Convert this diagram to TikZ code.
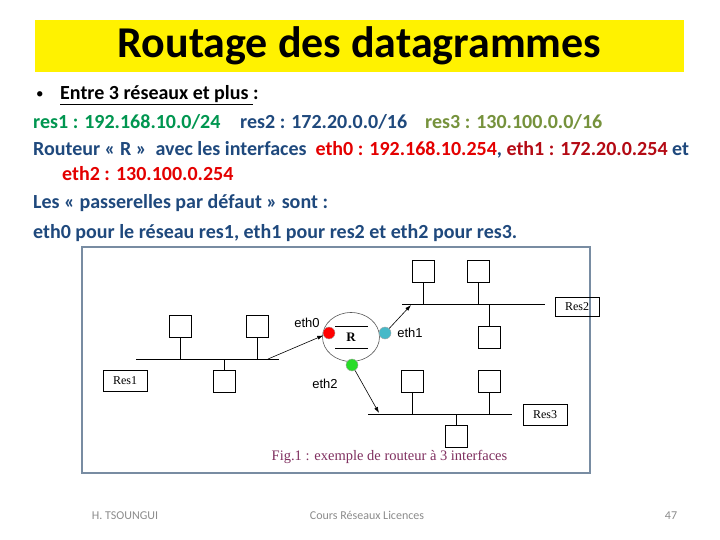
\documentclass[tikz,border=0pt]{standalone}
\usepackage{fontspec}
\setmainfont{Carlito}
\newfontfamily\arialfont{Liberation Sans}
\newfontfamily\timesfont{Liberation Serif}
\usepackage{tikz}
\usetikzlibrary{arrows.meta,positioning,calc,shapes.geometric}
\definecolor{slate}{RGB}{31,73,125}
\definecolor{resgreen}{RGB}{0,150,80}
\definecolor{resolive}{RGB}{118,146,60}
\definecolor{ethred}{RGB}{228,0,0}
\definecolor{ethdark}{RGB}{180,10,20}
\definecolor{figframe}{RGB}{120,140,162}
\definecolor{capcol}{RGB}{128,48,96}
\definecolor{footgray}{RGB}{140,140,140}
\definecolor{dotcyan}{RGB}{70,185,200}
\definecolor{dotgreen}{RGB}{40,220,40}

\begin{document}
\begin{tikzpicture}[x=1pt,y=-1pt,
  txt/.style={anchor=base west, inner sep=0pt, text=slate, font=\fontsize{20}{24}\selectfont\bfseries},
  foot/.style={anchor=base, inner sep=0pt, text=footgray, font=\fontsize{12}{12}\selectfont},
  host/.style={draw, line width=0.8pt, minimum size=22pt, inner sep=0pt},
  resbox/.style={draw, line width=0.8pt, minimum width=44pt, minimum height=21pt, inner sep=0pt, font=\timesfont\fontsize{12}{12}\selectfont},
  bus/.style={line width=0.8pt},
  dot/.style={circle, minimum size=12pt, inner sep=0pt, draw=black!35, line width=0.4pt},
  ethlab/.style={inner sep=0pt, font=\arialfont\fontsize{13}{13}\selectfont},
  arr/.style={-{Latex[length=6pt,width=4pt]}, line width=0.6pt}
]
\fill[white] (0,0) rectangle (720,540);
\useasboundingbox (0,0) rectangle (720,540);

% title
\node[fill=yellow, minimum width=649pt, minimum height=52pt, inner sep=0pt,
  font=\fontsize{44}{44}\selectfont\bfseries] (title) at (359.5,46) {Routage des datagrammes};

% text lines
\node[anchor=base west, inner sep=0pt, font=\fontsize{15}{15}\selectfont] (bullet) at (36,99) {\textbullet};
\node[anchor=base west, inner sep=0pt, font=\fontsize{20}{24}\selectfont\bfseries] (intro) at (60,100) {\underline{Entre 3 réseaux et plus }:};
\node[txt, text=resgreen] (res1ip) at (33,129) {res1 : 192.168.10.0/24};
\node[txt] (res2ip) at (240,129) {res2 : 172.20.0.0/16};
\node[txt, text=resolive] (res3ip) at (425,129) {res3 : 130.100.0.0/16};
\node[txt] (routeur) at (33,156) {Routeur « R »~ avec les interfaces~ \textcolor{ethred}{eth0 : 192.168.10.254}, \textcolor{ethdark}{eth1 : 172.20.0.254} et};
\node[txt, text=ethred] (eth2ip) at (62,181) {eth2 : 130.100.0.254};
\node[txt] (passer) at (33,209) {Les « passerelles par défaut » sont :};
\node[txt] (gates) at (33,238) {eth0 pour le réseau res1, eth1 pour res2 et eth2 pour res3.};

% figure frame
\draw[figframe, line width=1.2pt] (82,247) rectangle (590,473);

% router
\node[ellipse, draw=black!65, line width=0.6pt, minimum width=57pt, minimum height=49pt, inner sep=0pt,
  font=\timesfont\fontsize{13}{13}\selectfont\bfseries] (R) at (351,337) {R};
\draw[bus] ($(R.center)+(-16,-11)$) -- ++(33,0);
\draw[bus] ($(R.center)+(-16,11)$) -- ++(33,0);
\node[dot, fill=red] (eth0) at (329,333) {};
\node[dot, fill=dotcyan] (eth1) at (385,333) {};
\node[dot, fill=dotgreen] (eth2) at (352,365) {};
\node[ethlab] (lab0) at (307,323) {eth0};
\node[ethlab] (lab1) at (410,333) {eth1};
\node[ethlab] (lab2) at (325,384) {eth2};

% Res1
\coordinate (lan1w) at (136,359);
\coordinate (lan1e) at (279,359);
\coordinate (lan1a) at (268,359);
\draw[bus] (lan1w) -- (lan1e);
\node[host] (h1a) at (180,326) {};
\node[host] (h1b) at (257.5,326) {};
\node[host] (h1c) at (224,381) {};
\foreach \h in {h1a,h1b} \draw[bus] (\h.south) -- (\h.south |- lan1w);
\draw[bus] (h1c.north) -- (h1c.north |- lan1w);
\node[resbox] (res1) at (125,381) {Res1};
\draw[arr] (lan1a) -- (eth0);

% Res2
\coordinate (lan2w) at (402,304);
\coordinate (lan2e) at (545,304);
\coordinate (lan2a) at (411,305);
\draw[bus] (lan2w) -- (lan2e);
\node[host] (h2a) at (423,271) {};
\node[host] (h2b) at (478.5,271) {};
\node[host] (h2c) at (489.5,337) {};
\foreach \h in {h2a,h2b} \draw[bus] (\h.south) -- (\h.south |- lan2w);
\draw[bus] (h2c.north) -- (h2c.north |- lan2w);
\node[resbox, minimum height=19pt] (res2) at (577,306.5) {Res2};
\draw[arr] (eth1) -- (lan2a);

% Res3
\coordinate (lan3w) at (368,414);
\coordinate (lan3e) at (512,414);
\coordinate (lan3a) at (379,413);
\draw[bus] (lan3w) -- (lan3e);
\node[host] (h3a) at (412.5,381) {};
\node[host] (h3b) at (489.5,381) {};
\node[host] (h3c) at (456,436) {};
\foreach \h in {h3a,h3b} \draw[bus] (\h.south) -- (\h.south |- lan3w);
\draw[bus] (h3c.north) -- (h3c.north |- lan3w);
\node[resbox] (res3) at (545,414.5) {Res3};
\draw[arr] (eth2) -- (lan3a);

\node[inner sep=0pt, text=capcol, font=\timesfont\fontsize{14.5}{15}\selectfont] (caption) at (389.5,457) {Fig.1 : exemple de routeur à 3 interfaces};

% footer
\node[foot] (author) at (125,519) {H. TSOUNGUI};
\node[foot] (course) at (367,519) {Cours Réseaux Licences};
\node[foot] (page) at (671,519) {47};
\end{tikzpicture}
\end{document}
